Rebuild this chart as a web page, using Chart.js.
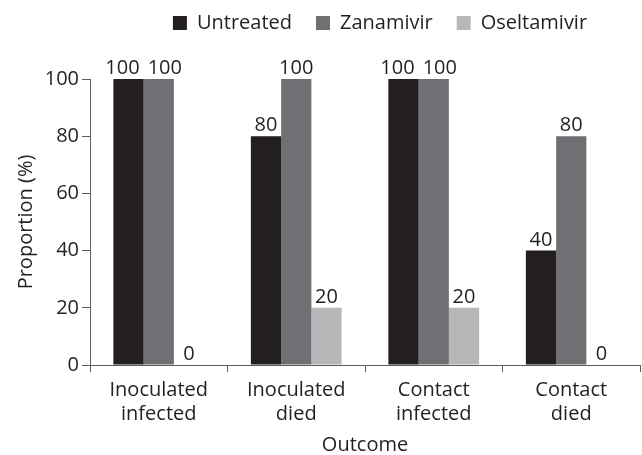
<!DOCTYPE html>
<html>
<head>
<meta charset="utf-8">
<script src="https://cdn.jsdelivr.net/npm/chart.js@4/dist/chart.umd.min.js"></script>
<style>
    html, body { margin: 0; padding: 0; background: #ffffff; }
    #wrap { width: 642px; height: 455px; }
</style>
</head>
<body>
<div id="wrap"><canvas id="chart" width="642" height="455"></canvas></div>
<script>
// Werte
const categories = [["Inoculated", "infected"], ["Inoculated", "died"], ["Contact", "infected"], ["Contact", "died"]];
const seriesNames = ["Untreated", "Zanamivir", "Oseltamivir"];
const untreated = [100, 80, 100, 40];
const zanamivir = [100, 100, 100, 80];
const oseltamivir = [0, 20, 20, 0];
const yTicks = [0, 20, 40, 60, 80, 100];

const colors = ["#231f20", "#6f7073", "#b6b7b9"];
const textColor = "#231f20";
const axisColor = "#5c5c5c";
const fontFamily = "'Open Sans', 'DejaVu Sans', sans-serif";
const fontSize = 20;

Chart.defaults.font.family = fontFamily;
Chart.defaults.font.size = fontSize;
Chart.defaults.color = textColor;

const valueLabels = {
    id: 'valueLabels',
    afterDatasetsDraw(chart) {
        /*
            Schreibt den Wert über jeden Balken. Überlappende Labels
            nebeneinander werden etwas auseinander geschoben.
         */
        let ctx = chart.ctx;
        ctx.save();
        ctx.font = fontSize + "px " + fontFamily;
        ctx.fillStyle = textColor;
        ctx.textAlign = "center";
        ctx.textBaseline = "alphabetic";

        for (let j = 0; j < categories.length; j++) {
            let items = [];
            chart.data.datasets.forEach(function (ds, i) {
                let bar = chart.getDatasetMeta(i).data[j];
                let text = String(ds.data[j]);
                items.push({text: text, x: bar.x, y: bar.y - 5, w: ctx.measureText(text).width});
            });
            for (let k = 0; k < items.length - 1; k++) {
                let a = items[k];
                let b = items[k + 1];
                if (Math.abs(a.y - b.y) < fontSize) {
                    let overlap = (a.w + b.w) / 2 - (b.x - a.x);
                    if (overlap > -8) {
                        let push = (overlap + 8) / 2;
                        a.x -= push;
                        b.x += push;
                    }
                }
            }
            items.forEach(function (it) {
                ctx.fillText(it.text, it.x, it.y);
            });
        }
        ctx.restore();
    }
};

const legendShift = {
    id: 'legendShift',
    afterLayout(chart) {
        // Legende etwas nach rechts und oben schieben
        let lg = chart.legend;
        lg.left += 60;
        lg.right += 60;
        lg.top -= 36;
        lg.bottom -= 36;
    }
};

new Chart(document.getElementById("chart"), {
    type: 'bar',
    data: {
        labels: categories,
        datasets: [
            {label: seriesNames[0], data: untreated, backgroundColor: colors[0]},
            {label: seriesNames[1], data: zanamivir, backgroundColor: colors[1]},
            {label: seriesNames[2], data: oseltamivir, backgroundColor: colors[2]}
        ]
    },
    options: {
        responsive: false,
        animation: false,
        maintainAspectRatio: false,
        layout: {padding: {top: 25, left: 0, right: 2, bottom: 0}},
        datasets: {bar: {categoryPercentage: 0.66, barPercentage: 1.0, borderWidth: 0}},
        plugins: {
            legend: {
                position: 'top',
                align: 'center',
                labels: {boxWidth: 14, boxHeight: 14, padding: 24, color: textColor, font: {size: fontSize}}
            },
            tooltip: {enabled: false}
        },
        scales: {
            x: {
                afterFit: function (scale) { scale.height = 90; },
                grid: {display: true, drawOnChartArea: false, drawTicks: true, tickLength: 7, color: axisColor, offset: true},
                border: {display: true, color: axisColor, width: 1},
                ticks: {padding: 6, color: textColor, font: {size: fontSize}, maxRotation: 0},
                title: {display: true, text: "Outcome", color: textColor, font: {size: fontSize}, padding: {top: 0, bottom: -2}}
            },
            y: {
                min: 0,
                max: 100,
                afterFit: function (scale) { scale.width = 90; },
                afterBuildTicks: function (scale) { scale.ticks = yTicks.map(function (v) { return {value: v}; }); },
                grid: {display: true, drawOnChartArea: false, drawTicks: true, tickLength: 8, color: axisColor},
                border: {display: true, color: axisColor, width: 1},
                ticks: {padding: 3, color: textColor, font: {size: fontSize}},
                title: {display: true, text: "Proportion (%)", color: textColor, font: {size: fontSize}, padding: {top: 14, bottom: 0}}
            }
        }
    },
    plugins: [valueLabels, legendShift]
});
</script>
</body>
</html>
